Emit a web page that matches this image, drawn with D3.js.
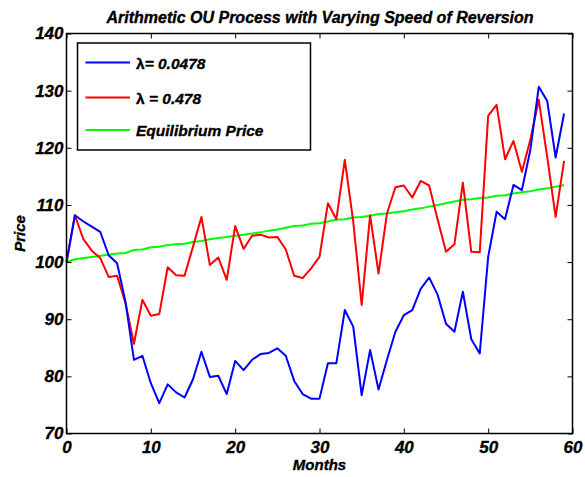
<!DOCTYPE html>
<html>
<head>
<meta charset="utf-8">
<script src="https://cdn.jsdelivr.net/npm/d3@7/dist/d3.min.js"></script>
<style>
  html, body { margin: 0; padding: 0; background: #fff; }
  svg { display: block; }
  text { font-family: "Liberation Sans", Arial, sans-serif; font-weight: bold; font-style: italic; fill: #000; stroke: #000; stroke-width: 0.35px; }
</style>
</head>
<body>
<script>
// Month index for each observation
const months = d3.range(60);

// Slow reversion path (lambda = 0.0478)
const slowPath = [
  100.0, 108.2, 107.1, 106.2, 105.3, 101.2, 99.8, 93.0, 82.9, 83.6,
  78.8, 75.3, 78.6, 77.2, 76.3, 79.5, 84.3, 79.9, 80.1, 76.9,
  82.7, 81.1, 82.9, 83.9, 84.1, 84.9, 83.6, 79.2, 76.9, 76.1,
  76.1, 82.3, 82.3, 91.6, 88.7, 76.7, 84.6, 77.7, 82.9, 87.8,
  90.7, 91.6, 95.3, 97.3, 94.3, 89.2, 87.8, 94.8, 86.5, 84.0,
  100.9, 108.8, 107.5, 113.5, 112.6, 119.6, 130.7, 128.2, 118.3, 126.0
];

// Fast reversion path (lambda = 0.478)
const fastPath = [
  100.0, 108.2, 104.0, 102.0, 100.7, 97.4, 97.6, 92.8, 85.7, 93.4,
  90.6, 90.9, 99.1, 97.7, 97.6, 102.7, 107.9, 99.5, 100.8, 96.9,
  106.3, 102.3, 104.6, 104.8, 104.3, 104.4, 102.2, 97.6, 97.2, 98.9,
  100.9, 110.3, 107.5, 117.9, 107.1, 92.5, 108.2, 98.0, 108.5, 113.1,
  113.4, 111.3, 114.2, 113.4, 107.5, 101.8, 103.1, 113.9, 101.8, 101.7,
  125.6, 127.5, 118.0, 121.2, 115.8, 121.4, 128.4, 118.4, 107.9, 117.7
];

// Equilibrium price level
const equilibrium = [
  100.0, 100.5, 100.7, 100.9, 101.1, 101.3, 101.5, 101.6, 102.1, 102.2,
  102.6, 102.7, 103.0, 103.1, 103.2, 103.5, 103.7, 104.0, 104.2, 104.4,
  104.6, 104.8, 105.0, 105.2, 105.5, 105.7, 106.0, 106.3, 106.4, 106.7,
  106.8, 107.1, 107.4, 107.5, 107.8, 107.9, 108.1, 108.4, 108.5, 108.7,
  108.9, 109.2, 109.4, 109.7, 110.0, 110.3, 110.6, 110.9, 111.0, 111.2,
  111.3, 111.6, 111.7, 112.0, 112.2, 112.4, 112.7, 112.9, 113.2, 113.5
];

const xTicks = [0, 10, 20, 30, 40, 50, 60];
const yTicks = [70, 80, 90, 100, 110, 120, 130, 140];

const seriesNames = ["λ= 0.0478", "λ = 0.478", "Equilibrium Price"];
const seriesColors = ["#0000ff", "#ff0000", "#00ff00"];

const W = 585, H = 477;
const plotL = 66.5, plotR = 572.5, plotT = 33.5, plotB = 433.5;

const svg = d3.select("body").append("svg").attr("width", W).attr("height", H);

const x = d3.scaleLinear().domain([0, 60]).range([plotL, plotR]);
const y = d3.scaleLinear().domain([70, 140]).range([plotB, plotT]);

// Series lines
const series = [slowPath, fastPath, equilibrium];
const line = d3.line().x((d, i) => x(months[i])).y(d => y(d));

// Draw equilibrium first, then fast path, then slow path on top
[2, 1, 0].forEach(k => {
  svg.append("path")
    .datum(series[k])
    .attr("fill", "none")
    .attr("stroke", seriesColors[k])
    .attr("stroke-width", 2)
    .attr("stroke-linejoin", "round")
    .attr("d", line);
});

// Axes with inward ticks on all four sides
function styleAxis(g) {
  g.select(".domain").remove();
  g.selectAll(".tick line").attr("stroke", "#000").attr("stroke-width", 1);
}
function styleLabels(g) {
  g.selectAll("text")
    .attr("font-size", 17)
    .style("font-family", "Liberation Sans, Arial, sans-serif")
    .style("font-weight", "bold")
    .style("font-style", "italic")
    .attr("fill", "#000");
}

svg.append("g")
  .attr("transform", `translate(0,${plotB})`)
  .call(d3.axisBottom(x).tickValues(xTicks).tickSizeInner(-5).tickSizeOuter(0).tickPadding(8))
  .call(styleAxis)
  .call(styleLabels)
  .call(g => g.selectAll("text").attr("y", 7));

svg.append("g")
  .attr("transform", `translate(${plotL},0)`)
  .call(d3.axisLeft(y).tickValues(yTicks).tickSizeInner(-5).tickSizeOuter(0).tickPadding(4))
  .call(styleAxis)
  .call(styleLabels)
  .call(g => g.selectAll("text").attr("x", -3));

svg.append("g")
  .attr("transform", `translate(0,${plotT})`)
  .call(d3.axisTop(x).tickValues(xTicks).tickSizeInner(-5).tickSizeOuter(0).tickFormat(""))
  .call(styleAxis);

svg.append("g")
  .attr("transform", `translate(${plotR},0)`)
  .call(d3.axisRight(y).tickValues(yTicks).tickSizeInner(-5).tickSizeOuter(0).tickFormat(""))
  .call(styleAxis);

// Plot frame
svg.append("rect")
  .attr("x", plotL).attr("y", plotT)
  .attr("width", plotR - plotL).attr("height", plotB - plotT)
  .attr("fill", "none").attr("stroke", "#000").attr("stroke-width", 1.5);

// Title and axis labels
svg.append("text")
  .attr("x", (plotL + plotR) / 2 + 0.5).attr("y", 23)
  .attr("text-anchor", "middle").attr("font-size", 16)
  .text("Arithmetic OU Process with Varying Speed of Reversion");

svg.append("text")
  .attr("x", (plotL + plotR) / 2).attr("y", 470)
  .attr("text-anchor", "middle").attr("font-size", 15)
  .text("Months");

svg.append("text")
  .attr("transform", `translate(25,${(plotT + plotB) / 2}) rotate(-90)`)
  .attr("text-anchor", "middle").attr("font-size", 15)
  .text("Price");

// Legend
const legend = svg.append("g");
legend.append("rect")
  .attr("x", 77.5).attr("y", 43)
  .attr("width", 233).attr("height", 107)
  .attr("fill", "#fff").attr("stroke", "#000").attr("stroke-width", 1.5);

const legendY = [62.5, 97.5, 130];
seriesNames.forEach((name, i) => {
  legend.append("line")
    .attr("x1", 85.5).attr("x2", 130)
    .attr("y1", legendY[i]).attr("y2", legendY[i])
    .attr("stroke", seriesColors[i]).attr("stroke-width", 2);
  const t = legend.append("text")
    .attr("x", 136).attr("y", legendY[i] + 6)
    .attr("font-size", 15.5);
  if (name.startsWith("λ")) {
    t.append("tspan").style("font-style", "normal").text("λ");
    t.append("tspan").text(name.slice(1));
  } else {
    t.text(name);
  }
});
</script>
</body>
</html>
